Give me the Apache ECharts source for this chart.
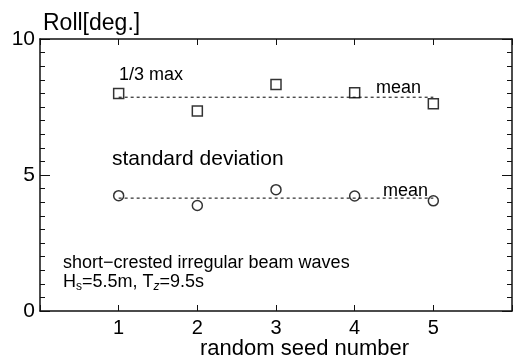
<!DOCTYPE html>
<html>
<head>
<meta charset="utf-8">
<script src="https://cdn.jsdelivr.net/npm/echarts@6/dist/echarts.min.js"></script>
<style>
  html, body { margin: 0; padding: 0; background: #fff; }
  #chart { width: 515px; height: 358px; }
</style>
</head>
<body>
<div id="chart"></div>
<script>
// random seed numbers
var seeds = [1, 2, 3, 4, 5];
// 1/3 max roll (deg)
var rollMax = [8.0, 7.35, 8.33, 8.02, 7.62];
// standard deviation of roll (deg)
var rollStd = [4.24, 3.88, 4.46, 4.23, 4.05];
// mean lines
var meanMax = 7.86;
var meanStd = 4.15;
var yTicks = [0, 5, 10];

var font = 'Liberation Sans, Arial, sans-serif';

function pairs(xs, ys) {
    var out = [];
    for (var i = 0; i < xs.length; i++) out.push([xs[i], ys[i]]);
    return out;
}

var axisLine = { show: true, onZero: false, lineStyle: { color: '#111', width: 1.5 } };

var myChart = echarts.init(document.getElementById('chart'));
var option = {
    animation: false,
    backgroundColor: '#fff',
    grid: { left: 40, right: 2, top: 39, bottom: 47 },
    xAxis: [
        {
            type: 'value', min: 0, max: 6, interval: 1, position: 'bottom',
            axisLine: axisLine,
            axisTick: { inside: true, length: 6, lineStyle: { color: '#111', width: 1 } },
            axisLabel: {
                color: '#000', fontSize: 20, fontFamily: font, margin: 7,
                formatter: function (v) { return seeds.indexOf(v) >= 0 ? String(v) : ''; }
            },
            splitLine: { show: false }
        },
        {
            type: 'value', min: 0, max: 6, interval: 1, position: 'top',
            axisLine: axisLine,
            axisTick: { inside: true, length: 6, lineStyle: { color: '#111', width: 1 } },
            axisLabel: { show: false },
            splitLine: { show: false }
        }
    ],
    yAxis: [
        {
            type: 'value', min: 0, max: 10, interval: 5, position: 'left',
            axisLine: axisLine,
            axisTick: { inside: true, length: 10, lineStyle: { color: '#111', width: 1 } },
            minorTick: { show: true, splitNumber: 10, length: 5, lineStyle: { color: '#111', width: 1 } },
            axisLabel: {
                color: '#000', fontSize: 21, fontFamily: font, margin: 5,
                formatter: function (v) { return yTicks.indexOf(v) >= 0 ? String(v) : ''; }
            },
            splitLine: { show: false }
        },
        {
            type: 'value', min: 0, max: 10, interval: 5, position: 'right',
            axisLine: axisLine,
            axisTick: { inside: true, length: 10, lineStyle: { color: '#111', width: 1 } },
            minorTick: { show: true, splitNumber: 10, length: 5, lineStyle: { color: '#111', width: 1 } },
            axisLabel: { show: false },
            splitLine: { show: false }
        }
    ],
    series: [
        {
            name: 'mean max', type: 'line', symbol: 'none',
            data: [[seeds[0], meanMax], [seeds[seeds.length - 1], meanMax]],
            lineStyle: { color: '#000', width: 1, type: [3, 3] }
        },
        {
            name: 'mean std', type: 'line', symbol: 'none',
            data: [[seeds[0], meanStd], [seeds[seeds.length - 1], meanStd]],
            lineStyle: { color: '#000', width: 1, type: [3, 3] }
        },
        {
            name: '1/3 max', type: 'scatter', symbol: 'rect', symbolSize: 10,
            data: pairs(seeds, rollMax),
            itemStyle: { color: '#fff', borderColor: '#000', borderWidth: 1.5 }
        },
        {
            name: 'standard deviation', type: 'scatter', symbol: 'circle', symbolSize: 10,
            data: pairs(seeds, rollStd),
            itemStyle: { color: '#fff', borderColor: '#000', borderWidth: 1.5 }
        }
    ],
    graphic: [
        { type: 'text', left: 43, top: 12, style: { text: 'Roll[deg.]', fontSize: 23, fontFamily: font, fill: '#000' } },
        { type: 'text', left: 119, top: 66, style: { text: '1/3 max', fontSize: 18, fontFamily: font, fill: '#000' } },
        { type: 'text', left: 376, top: 79, style: { text: 'mean', fontSize: 18, fontFamily: font, fill: '#000' } },
        { type: 'text', left: 112, top: 149, style: { text: 'standard deviation', fontSize: 21, fontFamily: font, fill: '#000' } },
        { type: 'text', left: 383, top: 182, style: { text: 'mean', fontSize: 18, fontFamily: font, fill: '#000' } },
        { type: 'text', left: 63, top: 254, style: { text: 'short\u2212crested irregular beam waves', fontSize: 18, fontFamily: font, fill: '#000' } },
        {
            type: 'text', left: 63, top: 273,
            style: {
                text: '{n|H}{s|s}{n|=5.5m, T}{z|z}{n|=9.5s}',
                fill: '#000',
                rich: {
                    n: { fontSize: 18, fontFamily: font, fill: '#000' },
                    s: { fontSize: 12, fontFamily: font, fill: '#000', padding: [10, 0, 0, 0] },
                    z: { fontSize: 12, fontFamily: font, fontStyle: 'italic', fill: '#000', padding: [10, 0, 0, 0] }
                }
            }
        },
        { type: 'text', left: 200, top: 338, style: { text: 'random seed number', fontSize: 22, fontFamily: font, fill: '#000' } }
    ]
};
myChart.setOption(option);
</script>
</body>
</html>
